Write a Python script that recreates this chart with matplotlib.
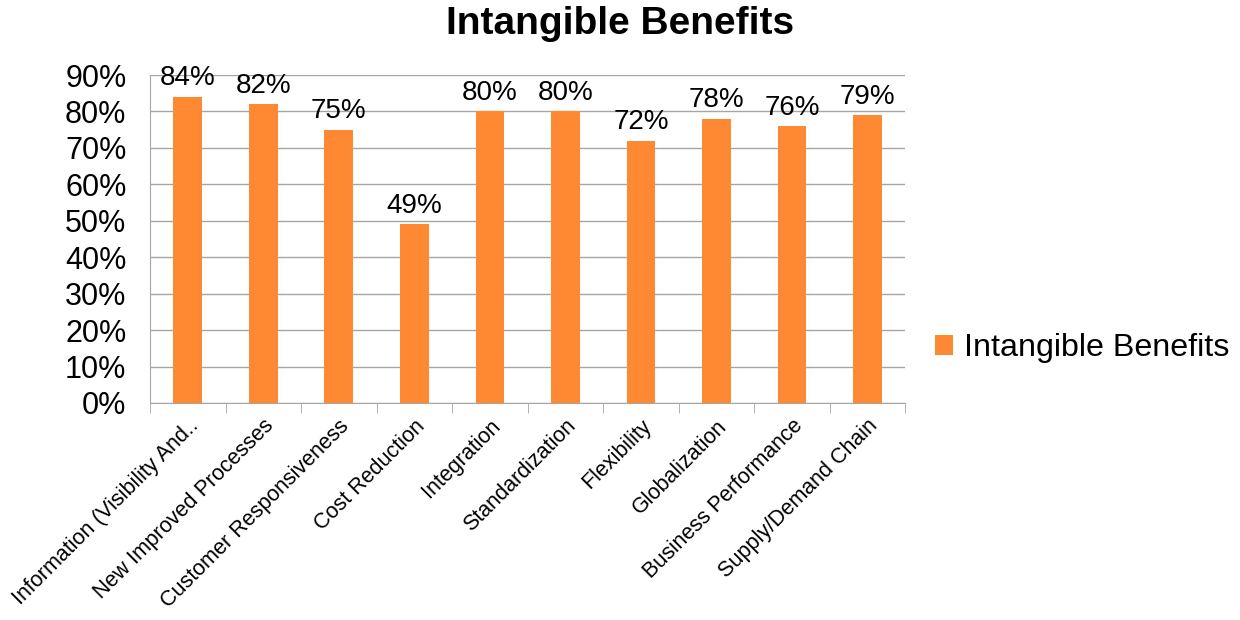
from matplotlib import pyplot as plt
import numpy as np

# chart values
categories = ['Information (Visibility And..', 'New Improved Processes', 'Customer Responsiveness',
              'Cost Reduction', 'Integration', 'Standardization', 'Flexibility',
              'Globalization', 'Business Performance', 'Supply/Demand Chain']
values = [84, 82, 75, 49, 80, 80, 72, 78, 76, 79]
yticks = [0, 10, 20, 30, 40, 50, 60, 70, 80, 90]

plt.rcParams['font.family'] = ['Liberation Sans', 'DejaVu Sans']

fig = plt.figure(figsize=(12.4, 6.2), dpi=100)
ax = fig.add_axes([0.121, 0.35, 0.609, 0.529])

x = np.arange(len(categories))
bars = ax.bar(x, values, width=0.38, color='#FF8833', label='Intangible Benefits', zorder=3)

for xi, v in zip(x, values):
    ax.text(xi, v + 1.5, f'{v}%', ha='center', va='bottom', fontsize=20)

ax.set_xlim(-0.5, len(categories) - 0.5)
ax.set_ylim(0, 90)
ax.set_yticks(yticks)
ax.set_yticklabels([f'{t}%' for t in yticks], fontsize=22)
ax.yaxis.grid(True, color='#A6A6A6', linewidth=1, zorder=0)
ax.tick_params(axis='y', length=0, pad=17)

ax.set_xticks(x)
ax.set_xticklabels(categories, rotation=45, ha='right', va='top', rotation_mode='anchor', fontsize=15.5)
ax.tick_params(axis='x', length=0, pad=9)
ax.set_xticks(np.arange(-0.5, len(categories)), minor=True)
ax.tick_params(axis='x', which='minor', length=7, color='#A6A6A6', direction='out')

for s in ['top', 'right']:
    ax.spines[s].set_visible(False)
for s in ['left', 'bottom']:
    ax.spines[s].set_color('#A6A6A6')

fig.text(0.5, 0.962, 'Intangible Benefits', ha='center', va='center', fontsize=28, fontweight='bold')

fig.legend(handles=[bars], loc='center left', bbox_to_anchor=(0.754, 0.438), frameon=False,
           fontsize=23.2, handlelength=0.55, handleheight=0.55, handletextpad=0.35,
           borderaxespad=0, borderpad=0)

plt.savefig('out.png', dpi=100)
